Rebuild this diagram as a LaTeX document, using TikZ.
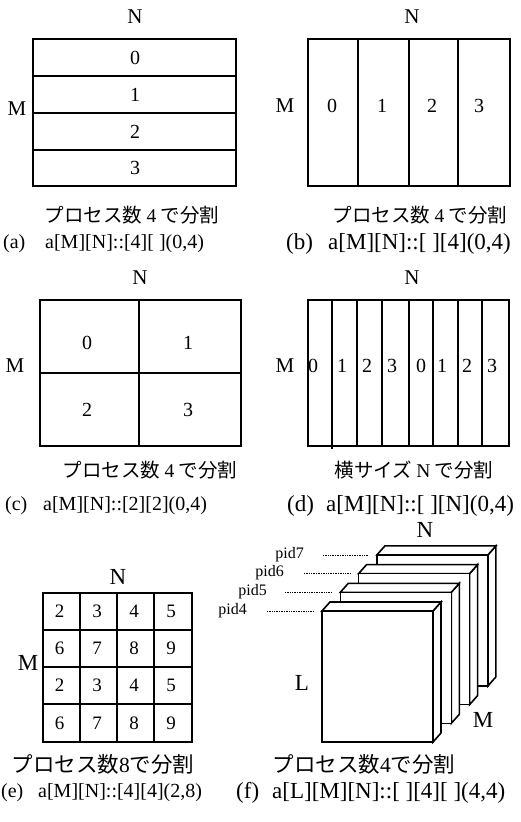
\documentclass[tikz,border=0pt]{standalone}
\usepackage{fontspec}
\setmainfont{Liberation Serif}
\newfontfamily\jfont{Noto Sans CJK JP}
\begin{document}
\begin{tikzpicture}[x=1pt,y=-1pt,
  box/.style={line width=1.9pt},
  lbl/.style={font=\fontsize{21}{21}\selectfont, inner sep=0pt},
  big/.style={font=\fontsize{23}{23}\selectfont, inner sep=0pt},
  dig/.style={font=\fontsize{20}{20}\selectfont, inner sep=0pt},
  edig/.style={font=\fontsize{19}{19}\selectfont, inner sep=0pt},
  frmL/.style={font=\fontsize{20}{20}\selectfont, inner sep=0pt, anchor=west},
  frmR/.style={font=\fontsize{23}{23}\selectfont, inner sep=0pt, anchor=west},
  capt/.style={font=\jfont\fontsize{19.5}{19.5}\selectfont, inner sep=0pt},
  capb/.style={font=\jfont\fontsize{21.5}{21.5}\selectfont, inner sep=0pt},
  pid/.style={font=\fontsize{16}{16}\selectfont, inner sep=0pt, anchor=east},
  leader/.style={line width=0.7pt, densely dotted},
  slab/.style={line width=1.6pt, fill=white, line join=miter}]
\useasboundingbox (0,0) rectangle (521,822);

% ---------- (a)
\draw[box] (33,39) rectangle (236,186);
\draw[box] (33,76) -- (236,76) (33,113) -- (236,113) (33,150) -- (236,150);
\node[lbl] (aN) at (135,17) {N};
\node[lbl] (aM) at (17,109) {M};
\node[dig] (a0) at (135,57.5) {0};
\node[dig] (a1) at (135,94.5) {1};
\node[dig] (a2) at (135,131.5) {2};
\node[dig] (a3) at (135,168) {3};
\node[capt] (acap) at (132,215) {プロセス数 {\rmfamily 4} で分割};
\node[frmL] (alab) at (3,244) {(a)};
\node[frmL] (afrm) at (45,244) {a[M][N]::[4][ ](0,4)};

% ---------- (b)
\draw[box] (308,39) rectangle (510,186);
\draw[box] (358,39) -- (358,186) (409,39) -- (409,186) (458,39) -- (458,186);
\node[lbl] (bN) at (412,17) {N};
\node[lbl] (bM) at (285,106) {M};
\node[dig] (b0) at (332,106) {0};
\node[dig] (b1) at (382,106) {1};
\node[dig] (b2) at (432,106) {2};
\node[dig] (b3) at (479,106) {3};
\node[capt] (bcap) at (420,215) {プロセス数 {\rmfamily 4} で分割};
\node[frmR] (blab) at (286,244) {(b)};
\node[frmR] (bfrm) at (328,244) {a[M][N]::[ ][4](0,4)};

% ---------- (c)
\draw[box] (40,300) rectangle (241,446);
\draw[box] (139,300) -- (139,446) (40,373) -- (241,373);
\node[lbl] (cN) at (140,278) {N};
\node[lbl] (cM) at (15,366) {M};
\node[dig] (c0) at (87,343) {0};
\node[dig] (c1) at (188,343) {1};
\node[dig] (c2) at (87,410) {2};
\node[dig] (c3) at (188,410) {3};
\node[capt] (ccap) at (150,470) {プロセス数 {\rmfamily 4} で分割};
\node[frmL] (clab) at (5,506) {(c)};
\node[frmL] (cfrm) at (43,506) {a[M][N]::[2][2](0,4)};

% ---------- (d)
\draw[box] (308,300) rectangle (509,446);
\draw[box] (332,300) -- (332,449);
\draw[box] (357,300) -- (357,446) (382,300) -- (382,446) (409,300) -- (409,446)
  (433,300) -- (433,446) (458,300) -- (458,446) (482,300) -- (482,446);
\node[lbl] (dN) at (412,278) {N};
\node[lbl] (dM) at (285,366) {M};
\node[dig] (d0) at (313,366) {0};
\node[dig] (d1) at (342,366) {1};
\node[dig] (d2) at (367,366) {2};
\node[dig] (d3) at (392,366) {3};
\node[dig] (d4) at (421,366) {0};
\node[dig] (d5) at (442,366) {1};
\node[dig] (d6) at (467,366) {2};
\node[dig] (d7) at (492,366) {3};
\node[capt] (dcap) at (414,470) {横サイズ {\rmfamily N} で分割};
\node[frmR] (dlab) at (287,506) {(d)};
\node[frmR] (dfrm) at (326,506) {a[M][N]::[ ][N](0,4)};

% ---------- (e)
\draw[box] (43,593) rectangle (192,742);
\draw[box] (80,593) -- (80,742) (117,593) -- (117,742) (154,593) -- (154,742);
\draw[box] (43,630) -- (192,630) (43,667) -- (192,667) (43,704) -- (192,704);
\node[big] (eN) at (118,577) {N};
\node[big] (eM) at (28,663) {M};
\foreach \r/\y in {0/611.5,1/648.5,2/685.5,3/723}{
  \foreach \c/\x in {0/59.5,1/97,2/134,3/171}{
    \pgfmathtruncatemacro{\v}{mod(\r,2)==0 ? 2+\c : 6+\c}
    \node[edig] (e\r\c) at (\x,\y) {\v};
  }
}
\node[capb] (ecap) at (103,764) {プロセス数{\rmfamily 8}で分割};
\node[frmL] (elab) at (1,793) {(e)};
\node[frmL] (efrm) at (38,793) {a[M][N]::[4][4](2,8)};

% ---------- (f)
\foreach \k in {3,2,1,0}{
  \pgfmathsetmacro{\ox}{322+18.3*\k}
  \pgfmathsetmacro{\oy}{611-18.7*\k}
  \draw[slab] (\ox+111,\oy) -- (\ox+119,\oy-9) -- (\ox+119,\oy+122) -- (\ox+111,\oy+131) -- cycle;
  \draw[slab] (\ox,\oy) -- (\ox+8,\oy-9) -- (\ox+119,\oy-9) -- (\ox+111,\oy) -- cycle;
  \draw[slab] (\ox,\oy) rectangle (\ox+111,\oy+131);
}
\node[pid] (p7) at (304,555) {pid7};
\node[pid] (p6) at (284,573) {pid6};
\node[pid] (p5) at (267,592) {pid5};
\node[pid] (p4) at (247,611) {pid4};
\coordinate (p7s) at (323,555); \coordinate (p7e) at (368,555);
\coordinate (p6s) at (304,573); \coordinate (p6e) at (350,573);
\coordinate (p5s) at (285,592); \coordinate (p5e) at (332,592);
\coordinate (p4s) at (267,611); \coordinate (p4e) at (313,611);
\draw[leader] (p7s) -- (p7e);
\draw[leader] (p6s) -- (p6e);
\draw[leader] (p5s) -- (p5e);
\draw[leader] (p4s) -- (p4e);
\node[big] (fN) at (425,530) {N};
\node[big] (fL) at (302,683) {L};
\node[big] (fM) at (483,720) {M};
\node[capb] (fcap) at (364,764) {プロセス数{\rmfamily 4}で分割};
\node[frmR] (flab) at (236,793) {(f)};
\node[frmR] (ffrm) at (272,793) {a[L][M][N]::[ ][4][ ](4,4)};
\end{tikzpicture}
\end{document}
